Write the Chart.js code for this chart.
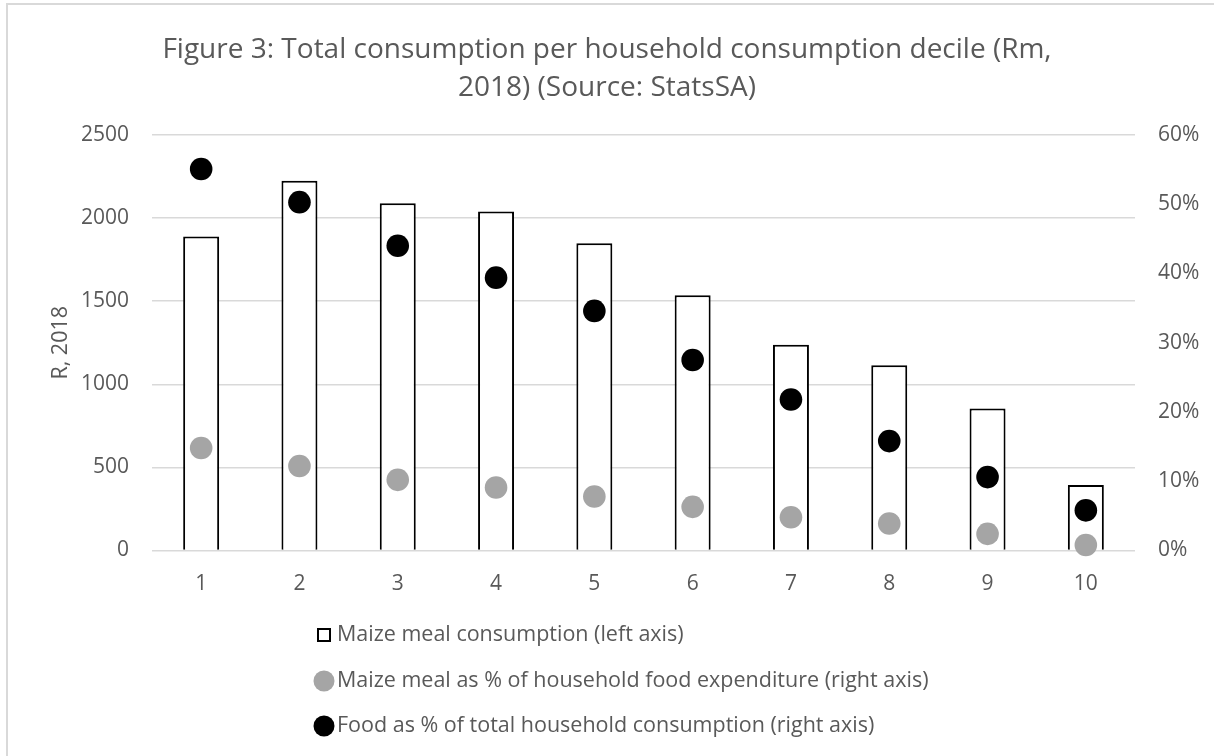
<!DOCTYPE html>
<html>
<head>
<meta charset="utf-8">
<script src="https://cdn.jsdelivr.net/npm/chart.js@4/dist/chart.umd.min.js"></script>
<style>
  html, body { margin: 0; padding: 0; background: #ffffff; }
  #wrap { width: 1214px; height: 756px; }
</style>
</head>
<body>
<div id="wrap"><canvas id="c" width="1214" height="756"></canvas></div>
<script>
// Household consumption deciles
const deciles = ['1', '2', '3', '4', '5', '6', '7', '8', '9', '10'];

// Maize meal consumption, R (left axis)
const maizeConsumption = [1890, 2225, 2090, 2040, 1848, 1536, 1238, 1115, 855, 394];

// Maize meal as % of household food expenditure (right axis)
const maizeShareOfFood = [14.8, 12.2, 10.2, 9.1, 7.8, 6.3, 4.8, 3.9, 2.4, 0.8];

// Food as % of total household consumption (right axis)
const foodShareOfTotal = [55.1, 50.3, 44.0, 39.4, 34.6, 27.5, 21.8, 15.8, 10.6, 5.8];

const titleLines = [
  'Figure 3: Total consumption per household consumption decile (Rm,',
  '2018) (Source: StatsSA)'
];
const leftTicks = { min: 0, max: 2500, step: 500 };
const rightTicks = { min: 0, max: 60, step: 10 };

const FONT = '"Open Sans", Lato, sans-serif';
const TEXT = '#595959';
const GRID = '#d9d9d9';

// white page with a light frame
const frame = {
  id: 'frame',
  beforeDraw(chart) {
    const ctx = chart.ctx;
    ctx.save();
    ctx.fillStyle = '#ffffff';
    ctx.fillRect(0, 0, chart.width, chart.height);
    ctx.strokeStyle = GRID;
    ctx.lineWidth = 2;
    ctx.strokeRect(7, 4, chart.width + 40, chart.height + 40);
    ctx.restore();
  }
};

// stacked legend below the plot, one entry per row
const stackedLegend = {
  id: 'stackedLegend',
  afterDraw(chart) {
    const ctx = chart.ctx;
    const x0 = 324;
    const rows = [635, 681, 726];
    ctx.save();
    ctx.font = '21.5px ' + FONT;
    ctx.textBaseline = 'middle';
    ctx.textAlign = 'left';
    chart.data.datasets.forEach((ds, i) => {
      const y = rows[i];
      if (ds.type === 'bar' || !ds.type) {
        ctx.fillStyle = ds.backgroundColor;
        ctx.fillRect(x0 - 6.5, y - 6.5, 13, 13);
        ctx.strokeStyle = ds.borderColor;
        ctx.lineWidth = 2;
        ctx.strokeRect(x0 - 6, y - 6, 12, 12);
      } else {
        ctx.beginPath();
        ctx.arc(x0, y, 10.5, 0, Math.PI * 2);
        ctx.fillStyle = ds.pointBackgroundColor;
        ctx.fill();
      }
      ctx.fillStyle = TEXT;
      ctx.fillText(ds.label, 337, y);
    });
    ctx.restore();
  }
};

new Chart(document.getElementById('c'), {
  type: 'bar',
  data: {
    labels: deciles,
    datasets: [
      {
        type: 'bar',
        label: 'Maize meal consumption (left axis)',
        data: maizeConsumption,
        yAxisID: 'y',
        backgroundColor: '#ffffff',
        borderColor: '#000000',
        borderWidth: 2,
        categoryPercentage: 1.0,
        barPercentage: 0.366,
        order: 3
      },
      {
        type: 'line',
        label: 'Maize meal as % of household food expenditure (right axis)',
        data: maizeShareOfFood,
        yAxisID: 'y1',
        showLine: false,
        pointRadius: 11.3,
        pointHoverRadius: 11.3,
        pointBackgroundColor: '#a5a5a5',
        pointBorderColor: '#a5a5a5',
        pointBorderWidth: 0,
        clip: false,
        order: 2
      },
      {
        type: 'line',
        label: 'Food as % of total household consumption (right axis)',
        data: foodShareOfTotal,
        yAxisID: 'y1',
        showLine: false,
        pointRadius: 11.3,
        pointHoverRadius: 11.3,
        pointBackgroundColor: '#000000',
        pointBorderColor: '#000000',
        pointBorderWidth: 0,
        clip: false,
        order: 1
      }
    ]
  },
  options: {
    responsive: false,
    devicePixelRatio: 1,
    animation: false,
    events: [],
    layout: { padding: { left: 0, right: 0, top: 0, bottom: 155.5 } },
    plugins: {
      legend: { display: false },
      tooltip: { enabled: false },
      title: {
        display: true,
        text: titleLines,
        color: TEXT,
        font: { family: FONT, size: 28, weight: 'normal', lineHeight: 38 / 28 },
        padding: { top: 31, bottom: 28 }
      }
    },
    scales: {
      x: {
        grid: { display: false },
        border: { display: false },
        ticks: { color: TEXT, font: { family: FONT, size: 21 }, padding: 13, maxRotation: 0 },
        afterFit(scale) { scale.height = 50; }
      },
      y: {
        position: 'left',
        min: leftTicks.min,
        max: leftTicks.max,
        grid: { color: GRID, lineWidth: 1.5, drawTicks: false },
        border: { display: false },
        ticks: {
          stepSize: leftTicks.step,
          color: TEXT,
          font: { family: FONT, size: 21 },
          padding: 23,
          callback: (v) => String(v)
        },
        title: {
          display: true,
          text: 'R, 2018',
          color: TEXT,
          font: { family: FONT, size: 21.5 },
          padding: { top: 48, bottom: 0 }
        },
        afterFit(scale) { scale.width = 152; }
      },
      y1: {
        position: 'right',
        min: rightTicks.min,
        max: rightTicks.max,
        grid: { drawOnChartArea: false, drawTicks: false },
        border: { display: false },
        ticks: {
          stepSize: rightTicks.step,
          color: TEXT,
          font: { family: FONT, size: 21 },
          padding: 23,
          callback: (v) => v + '%'
        },
        afterFit(scale) { scale.width = 79; }
      }
    }
  },
  plugins: [frame, stackedLegend]
});
</script>
</body>
</html>
